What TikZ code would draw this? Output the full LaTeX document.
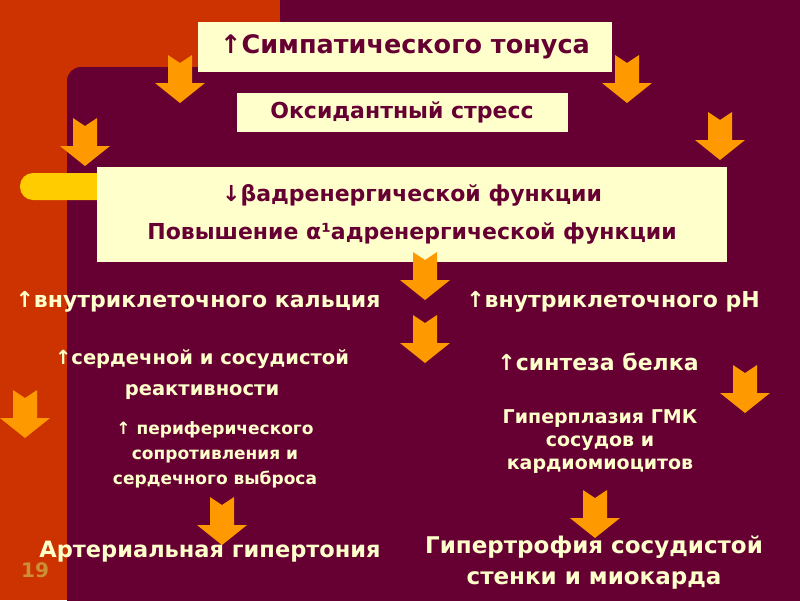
\documentclass[tikz,border=0pt]{standalone}
\usepackage{fontspec}
\setmainfont{DejaVu Sans}
\begin{document}
\begin{tikzpicture}[x=1pt,y=-1pt,
  box/.style={fill=cream,inner sep=0pt,text=maroon,font=\bfseries},
  lt/.style={text=cream,font=\bfseries,align=center,inner sep=0pt},
  barrow/.pic={\fill[orangeA] (-12,0) -- (0,8) -- (12,0) -- (12,28) -- (25,28) -- (0,48) -- (-25,28) -- (-12,28) -- cycle;}]
\definecolor{cream}{HTML}{FFFFCC}
\definecolor{maroon}{HTML}{660033}
\definecolor{redbg}{HTML}{CC3300}
\definecolor{orangeA}{HTML}{FF9900}
\definecolor{yellowbar}{HTML}{FFCC00}
\useasboundingbox (0,0) rectangle (800,600);
\fill[redbg] (0,0) rectangle (800,600);
\fill[maroon] (280,0) rectangle (800,70);
\fill[maroon,rounded corners=14pt] (67,67) rectangle (830,630);
\fill[yellowbar,rounded corners=13pt] (20,173) rectangle (120,200);
\node[box,minimum width=414,minimum height=50,font=\bfseries\fontsize{25.5}{28}\selectfont] (b1) at (405,47) {↑Симпатического тонуса};
\node[box,minimum width=331,minimum height=39,font=\bfseries\fontsize{22}{26}\selectfont] (b2) at (402,112) {Оксидантный стресс};
\node[box,minimum width=630,minimum height=95,align=center,font=\bfseries\fontsize{22}{38}\selectfont] (b3) at (412,214) {↓βадренергической функции\\Повышение α¹адренергической функции};
\foreach \x/\y in {180/55,627/55,85/118,720/112,425/252,425/315,25/390,745/365,222/497,595/490}
  \pic at (\x,\y) {barrow};
\node[lt,font=\bfseries\fontsize{22}{26}\selectfont] (t1) at (198,302) {↑внутриклеточного кальция};
\node[lt,font=\bfseries\fontsize{22}{26}\selectfont] (t2) at (613,302) {↑внутриклеточного pH};
\node[lt,font=\bfseries\fontsize{19.5}{31}\selectfont] (t3) at (202,375) {↑сердечной и сосудистой\\реактивности};
\node[lt,font=\bfseries\fontsize{17}{25}\selectfont] (t4) at (215,455) {↑ периферического\\сопротивления и\\сердечного выброса};
\node[lt,font=\bfseries\fontsize{22}{26}\selectfont] (t5) at (598,362) {↑синтеза белка};
\node[lt,font=\bfseries\fontsize{19}{23}\selectfont] (t6) at (600,442) {Гиперплазия ГМК\\сосудов и\\кардиомиоцитов};
\node[lt,font=\bfseries\fontsize{22.5}{26}\selectfont] (t7) at (210,552) {Артериальная гипертония};
\node[lt,font=\bfseries\fontsize{23}{31}\selectfont] (t8) at (594,563) {Гипертрофия сосудистой\\стенки и миокарда};
\node[text=orangeA!60!gray,font=\bfseries\fontsize{20}{22}\selectfont] (n) at (35,570) {19};
\end{tikzpicture}
\end{document}
